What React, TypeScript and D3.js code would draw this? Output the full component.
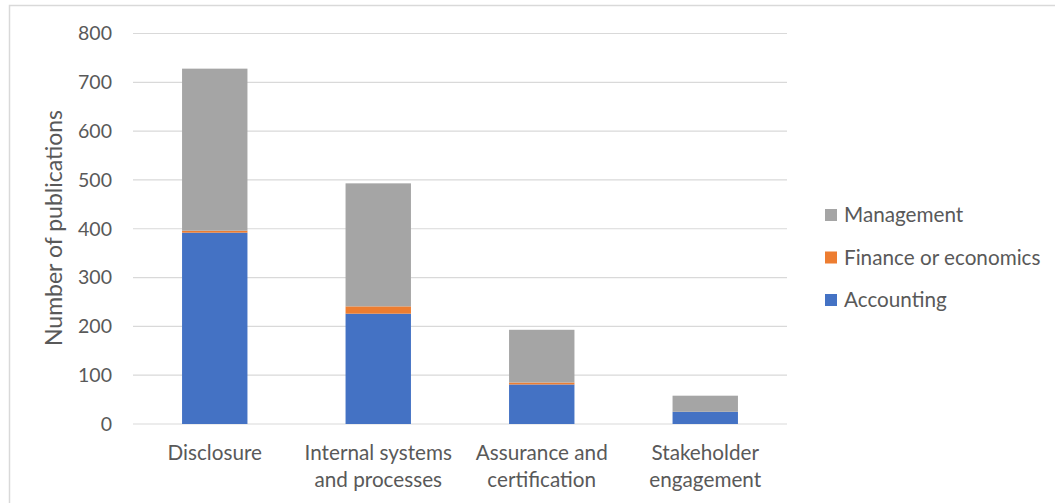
import React from "react";
import * as d3 from "d3";

const categories = [
  ["Disclosure"],
  ["Internal systems", "and processes"],
  ["Assurance and", "certification"],
  ["Stakeholder", "engagement"],
];
const categoryKeys = ["Disclosure", "Internal", "Assurance", "Stakeholder"];
const accounting = [392, 226, 81, 25];
const finance = [4, 15, 4, 0];
const management = [332, 252, 108, 33];
const yTicks = [0, 100, 200, 300, 400, 500, 600, 700, 800];

const seriesNames = ["Accounting", "Finance or economics", "Management"];
const seriesColors = ["#4472C4", "#ED7D31", "#A5A5A5"];
const legendOrder = [2, 1, 0];

const W = 1055;
const H = 503;
const FONT = "Lato, 'Open Sans', sans-serif";
const TEXT = "#595959";

export default function App() {
  const x = d3
    .scaleBand<string>()
    .domain(categoryKeys)
    .range([133, 787])
    .paddingInner(0.6)
    .paddingOuter(0.3);
  const y = d3.scaleLinear().domain([0, 800]).range([424, 33.5]);

  const rows = categoryKeys.map((k, i) => ({
    key: k,
    Accounting: accounting[i],
    "Finance or economics": finance[i],
    Management: management[i],
  }));
  const stacked = d3.stack<any>().keys(seriesNames)(rows);

  return (
    <svg
      width={W}
      height={H}
      style={{ position: "absolute", left: 0, top: 0, background: "#fff" }}
    >
      {/* chart frame */}
      <path d={`M9.5,${H} V5.5 H${W}`} fill="none" stroke="#d9d9d9" strokeWidth={1.5} />

      {/* gridlines */}
      {yTicks.map((t) => (
        <line
          key={t}
          x1={133}
          x2={787}
          y1={y(t)}
          y2={y(t)}
          stroke="#d9d9d9"
          strokeWidth={1.2}
        />
      ))}

      {/* y tick labels */}
      {yTicks.map((t) => (
        <text
          key={"l" + t}
          x={112}
          y={y(t) + 6.8}
          textAnchor="end"
          fontFamily={FONT}
          fontSize={19.5}
          fill={TEXT}
        >
          {t}
        </text>
      ))}

      {/* axis title */}
      <text
        transform={`translate(62,228) rotate(-90)`}
        textAnchor="middle"
        fontFamily={FONT}
        fontSize={23}
        fill={TEXT}
      >
        Number of publications
      </text>

      {/* stacked bars */}
      {stacked.map((s, si) => (
        <g key={s.key} fill={seriesColors[si]}>
          {s.map((d, i) => {
            const h = y(d[0]) - y(d[1]);
            if (h <= 0) return null;
            return (
              <rect
                key={i}
                x={x(categoryKeys[i])}
                y={y(d[1])}
                width={x.bandwidth()}
                height={h}
              />
            );
          })}
        </g>
      ))}

      {/* category labels */}
      {categories.map((lines, i) => (
        <text
          key={"c" + i}
          x={(x(categoryKeys[i]) as number) + x.bandwidth() / 2}
          textAnchor="middle"
          fontFamily={FONT}
          fontSize={20.7}
          fill={TEXT}
        >
          {lines.map((ln, j) => (
            <tspan key={j} x={(x(categoryKeys[i]) as number) + x.bandwidth() / 2} y={460 + j * 27}>
              {ln}
            </tspan>
          ))}
        </text>
      ))}

      {/* legend */}
      {legendOrder.map((si, r) => (
        <g key={"lg" + si} transform={`translate(825,${209 + r * 42.5})`}>
          <rect width={12} height={12} fill={seriesColors[si]} />
          <text x={19} y={13} fontFamily={FONT} fontSize={20.7} fill={TEXT}>
            {seriesNames[si]}
          </text>
        </g>
      ))}
    </svg>
  );
}
